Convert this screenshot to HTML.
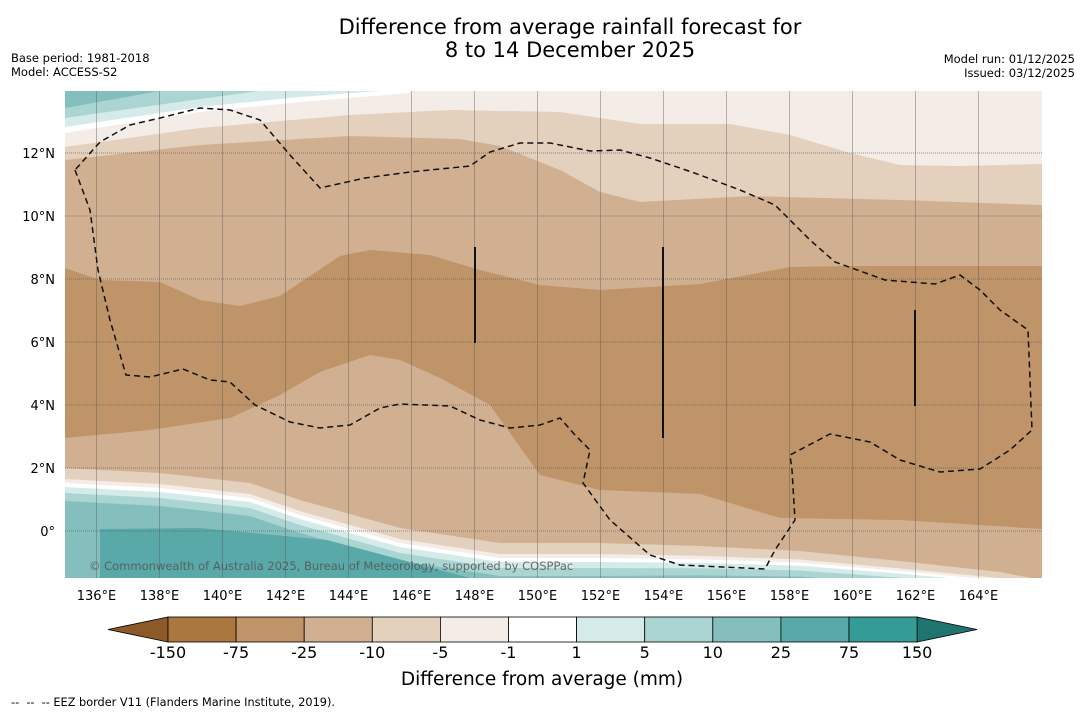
<!DOCTYPE html>
<html><head><meta charset="utf-8">
<style>
body{margin:0;background:#fff;width:1085px;height:713px;overflow:hidden;font-family:"DejaVu Sans","Liberation Sans",sans-serif;}
svg{position:absolute;left:0;top:0}
</style></head>
<body>
<svg id="s" width="1085" height="713" viewBox="0 0 1085 713">
<defs><clipPath id="mc"><rect x="65" y="91" width="977" height="487"/></clipPath></defs>
<text x="570" y="34" text-anchor="middle" font-size="21">Difference from average rainfall forecast for</text>
<text x="570" y="57" text-anchor="middle" font-size="21">8 to 14 December 2025</text>
<text x="11" y="62" font-size="11.5">Base period: 1981-2018</text>
<text x="11" y="76" font-size="11.5">Model: ACCESS-S2</text>
<text x="1075" y="63" font-size="11.5" text-anchor="end">Model run: 01/12/2025</text>
<text x="1075" y="77" font-size="11.5" text-anchor="end">Issued: 03/12/2025</text>
<g id="map" clip-path="url(#mc)"></g>
<g id="cb"></g>
<text x="542" y="685" text-anchor="middle" font-size="18.5">Difference from average (mm)</text>
<text x="11" y="706" font-size="11.3" xml:space="preserve">--  --  -- EEZ border V11 (Flanders Marine Institute, 2019).</text>
</svg>
<script>
const NS='http://www.w3.org/2000/svg';
const lonTicks=[136,138,140,142,144,146,148,150,152,154,156,158,160,162,164];
const latTicks=[0,2,4,6,8,10,12];
const cbLabels=['-150','-75','-25','-10','-5','-1','1','5','10','25','75','150'];
const cbColors=['#ab7740','#bf9468','#d1b092','#e3d0bd','#f4ece6','#ffffff','#d5ebe9','#aad5d3','#84bfbe','#59a9a8','#349b97'];
const X=lon=>65+(lon-135)*31.5;
const Y=lat=>531-lat*31.5;
function el(t,a,p){const e=document.createElementNS(NS,t);for(const k in a)e.setAttribute(k,a[k]);p.appendChild(e);return e;}
const map=document.getElementById('map'),svg=document.getElementById('s'),cb=document.getElementById('cb');
function band(top,bot,fill,name){
  const pts=top.map(p=>p.join(',')).concat(bot.slice().reverse().map(p=>p.join(',')));
  const e=el('polygon',{points:pts.join(' '),fill:fill},map);
  
  
}
const T=[[65,91],[1042,91]], B=[[65,578],[1042,578]];
const r=el('rect',{x:65,y:91,width:977,height:487,fill:'#d1b092'},map);

band(T,[[65,160],[200,145],[350,136],[460,139],[500,146],[560,170],[600,192],[640,202],[750,196],[900,200],[1042,205]],'#e3d0bd','band-top-minus10');
band(T,[[65,147],[200,128],[350,115],[450,110],[560,112],[640,124],[730,124],[790,135],[850,153],[900,165],[960,166],[1042,164]],'#f4ece6','band-top-minus5');
band(T,[[65,133],[200,112],[300,102],[410,93],[411,91]],'#ffffff','band-top-white');
band(T,[[65,127],[200,107],[300,97],[380,91]],'#d5ebe9','band-top-1-5');
band(T,[[65,118],[200,99],[260,91]],'#aad5d3','band-top-5-10');
band(T,[[65,108],[160,91]],'#84bfbe','band-top-10-25');
band([[65,268],[100,280],[160,282],[200,300],[240,306],[280,296],[340,256],[370,250],[430,255],[480,270],[540,285],[600,290],[700,284],[790,267],[850,266],[1042,266]],
     [[65,438],[150,430],[230,418],[280,395],[320,372],[370,355],[400,360],[440,378],[490,405],[515,440],[540,475],[600,490],[700,494],[780,518],[900,520],[1042,529]],'#bf9468','band-minus75');
const C=[[65,468],[160,473],[250,483],[300,500],[400,528],[500,543],[600,543],[700,546],[800,551],[900,561],[1000,572],[1042,580]];
const off=(d)=>C.map(p=>[p[0],p[1]+d*(1-Math.max(0,p[0]-600)/900)]);
band(C,B,'#e3d0bd','band-bottom-minus10');
band(off(11),B,'#f4ece6','band-bottom-minus5');
band(off(15),B,'#ffffff','band-bottom-white');
band(off(19),B,'#d5ebe9','band-bottom-1-5');
band(off(25),B,'#aad5d3','band-bottom-5-10');
band(off(33),B,'#84bfbe','band-bottom-10-25');
band([[100,529],[200,528],[327,540],[440,570],[470,578]],[[100,578]],'#59a9a8','band-bottom-25-75');
lonTicks.forEach(l=>{const g=el('line',{x1:X(l),x2:X(l),y1:91,y2:578,stroke:'#555','stroke-width':0.8,'stroke-opacity':0.5},map);

const t=el('text',{x:X(l),y:600,'text-anchor':'middle','font-size':13},svg);t.textContent=l+'°E';
});
latTicks.forEach(l=>{const g=el('line',{x1:65,x2:1042,y1:Y(l),y2:Y(l),stroke:'#555','stroke-width':1,'stroke-dasharray':'1,1','stroke-opacity':0.6},map);

const t=el('text',{x:55,y:Y(l)+5,'text-anchor':'end','font-size':13},svg);t.textContent=l===0?'0°':l+'°N';
});
const eez=[[75,170],[90,210],[98,270],[110,320],[126,375],[150,377],[183,369],[210,380],[230,382],[255,405],[290,422],[320,428],[350,425],[380,408],[400,404],[450,406],[480,420],[510,428],[540,425],[560,418],[575,435],[590,450],[583,483],[610,520],[650,555],[680,565],[765,569],[775,550],[795,520],[792,470],[790,455],[830,434],[870,442],[900,460],[940,472],[980,469],[1010,450],[1032,430],[1028,330],[1000,310],[980,290],[960,275],[935,284],[885,280],[835,262],[810,240],[775,205],[740,190],[700,175],[680,168],[650,158],[620,150],[590,151],[550,143],[520,143],[490,152],[470,166],[410,172],[365,178],[320,188],[290,155],[260,120],[230,110],[200,108],[160,118],[130,125],[100,142],[75,170]];
const e=el('polyline',{points:eez.map(p=>p.join(',')).join(' '),fill:'none',stroke:'#111','stroke-width':1.5,'stroke-dasharray':'6,4'},map);

[[475,247,343],[663,247,438],[915,310,406]].forEach(v=>{const l=el('line',{x1:v[0],x2:v[0],y1:v[1],y2:v[2],stroke:'#111','stroke-width':2},map);
});
const ct=el('text',{x:89,y:570,'font-size':11.5,fill:'#555','fill-opacity':0.85},map);ct.textContent='© Commonwealth of Australia 2025, Bureau of Meteorology, supported by COSPPac';

const bx=168,bw=68.1,by=617,bh=25;
const lt=el('polygon',{points:`108,${by+bh/2} ${bx},${by} ${bx},${by+bh}`,fill:'#8c5a28',stroke:'#000','stroke-width':0.8},cb);

const rt=el('polygon',{points:`977,${by+bh/2} ${bx+11*bw},${by} ${bx+11*bw},${by+bh}`,fill:'#1f7470',stroke:'#000','stroke-width':0.8},cb);

cbColors.forEach((c,i)=>{const b=el('rect',{x:bx+i*bw,y:by,width:bw,height:bh,fill:c,stroke:'#000','stroke-width':0.8},cb);
});
cbLabels.forEach((s,i)=>{const t=el('text',{x:bx+i*bw,y:658,'text-anchor':'middle','font-size':16},cb);t.textContent=s;
});
</script>
</body></html>
